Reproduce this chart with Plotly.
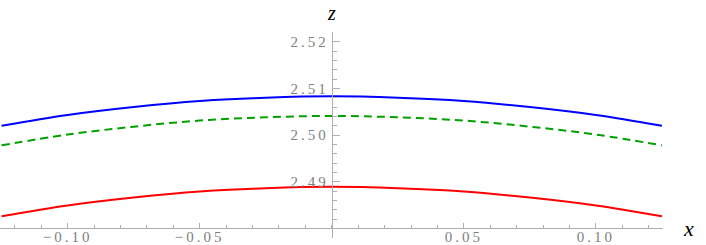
import plotly.graph_objects as go

# data
x_vals = [-0.125, -0.1, -0.075, -0.05, -0.025, 0.0, 0.025, 0.05, 0.075, 0.1, 0.125]
z_blue = [2.5020, 2.5043, 2.5060, 2.5073, 2.5080, 2.5083, 2.5080, 2.5073, 2.5060, 2.5043, 2.5020]
z_green = [2.4978, 2.5001, 2.5018, 2.5031, 2.5038, 2.5041, 2.5038, 2.5031, 2.5018, 2.5001, 2.4978]
z_red = [2.4826, 2.4849, 2.4866, 2.4879, 2.4886, 2.4889, 2.4886, 2.4879, 2.4866, 2.4849, 2.4826]

x_tickvals = [-0.10, -0.05, 0.05, 0.10]
x_ticktext = ["\u22120.10", "\u22120.05", "0.05", "0.10"]
z_tickvals = [2.49, 2.50, 2.51, 2.52]
z_ticktext = ["2.49", "2.50", "2.51", "2.52"]

x_range = [-0.1256, 0.1254]
z_range = [2.47794, 2.52208]
x_axis_at_z = 2.48

def spaced(t):
    return '<span style="letter-spacing:3px">' + t + '</span>'

fig = go.Figure()
fig.add_trace(go.Scatter(x=x_vals, y=z_blue, mode="lines", line=dict(color="#0000ff", width=2, shape="spline")))
fig.add_trace(go.Scatter(x=x_vals, y=z_green, mode="lines", line=dict(color="#00a000", width=2, shape="spline", dash="8px,5px")))
fig.add_trace(go.Scatter(x=x_vals, y=z_red, mode="lines", line=dict(color="#ff0000", width=2, shape="spline")))

serif = "Liberation Serif, DejaVu Serif, serif"
tickfont = dict(family=serif, size=15, color="#808080")

fig.update_layout(
    width=706, height=245,
    margin=dict(l=0, r=43, t=32, b=7, autoexpand=False),
    paper_bgcolor="white", plot_bgcolor="white",
    showlegend=False,
    xaxis=dict(
        range=x_range, anchor="free", automargin=False,
        position=(x_axis_at_z - z_range[0]) / (z_range[1] - z_range[0]),
        showgrid=False, zeroline=False,
        showline=True, linecolor="#b0b0b0", linewidth=1,
        tickmode="array", tickvals=x_tickvals,
        ticktext=[spaced(t) for t in x_ticktext],
        ticks="inside", ticklen=5, tickcolor="#b0b0b0", tickwidth=1,
        ticklabelstandoff=-5,
        minor=dict(dtick=0.01, ticks="inside", ticklen=3, tickcolor="#b0b0b0", tickwidth=1, showgrid=False, tick0=0),
        tickfont=tickfont,
    ),
    yaxis=dict(
        range=z_range, anchor="free", automargin=False,
        position=(0 - x_range[0]) / (x_range[1] - x_range[0]),
        showgrid=False, zeroline=False,
        showline=True, linecolor="#b0b0b0", linewidth=1,
        tickmode="array", tickvals=z_tickvals,
        ticktext=[spaced(t) for t in z_ticktext],
        ticks="inside", ticklen=7, tickcolor="#b0b0b0", tickwidth=1,
        minor=dict(dtick=0.002, tick0=2.48, ticks="inside", ticklen=4, tickcolor="#b0b0b0", tickwidth=1, showgrid=False),
        tickfont=tickfont,
    ),
    annotations=[
        dict(text="<i>x</i>", xref="paper", yref="y", x=1.0, y=x_axis_at_z, xanchor="left", yanchor="middle",
             xshift=18, showarrow=False, font=dict(family=serif, size=22, color="black")),
        dict(text="<i>z</i>", xref="x", yref="paper", x=0, y=1.0, xanchor="center", yanchor="middle",
             yshift=19, showarrow=False, font=dict(family=serif, size=20, color="black")),
    ],
)

fig.write_html("out.html", config={"displayModeBar": False},
               post_script="document.body.style.margin='0';")
